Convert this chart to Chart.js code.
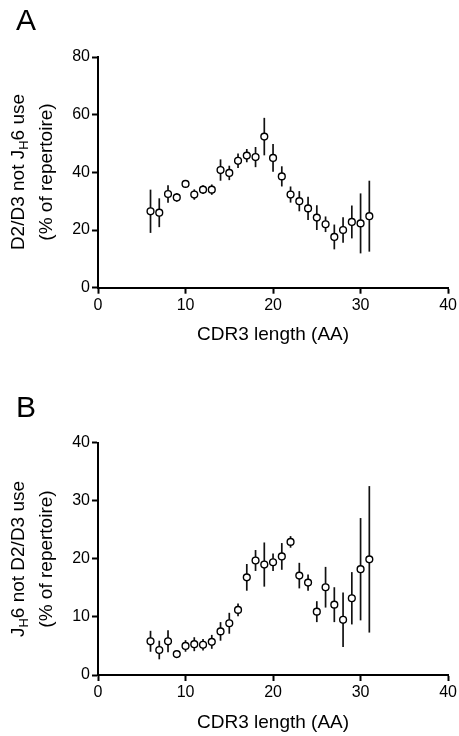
<!DOCTYPE html>
<html>
<head>
<meta charset="utf-8">
<script src="https://cdn.jsdelivr.net/npm/chart.js@4/dist/chart.umd.min.js"></script>
<style>
  html, body { margin: 0; padding: 0; background: #fff; }
  #wrap { position: relative; width: 459px; height: 736px; overflow: hidden; font-family: 'Liberation Sans', Arial, sans-serif; color: #000; }
  canvas { position: absolute; left: 0; }
  #chartA { top: 0; }
  #chartB { top: 368px; }
  .panel { position: absolute; font-size: 30px; line-height: 30px; }
  .ytitle { position: absolute; width: 240px; height: 56px; transform: rotate(-90deg); text-align: center; font-size: 19px; }
  .ytitle div { height: 28px; line-height: 28px; white-space: nowrap; }
  .ytitle sub { font-size: 13px; line-height: 0; vertical-align: -4px; }
</style>
</head>
<body>
<div id="wrap">
  <canvas id="chartA" width="459" height="368"></canvas>
  <canvas id="chartB" width="459" height="368"></canvas>
  <div class="panel" style="left:16px; top:5px;">A</div>
  <div class="panel" style="left:16px; top:392px;">B</div>
  <div class="ytitle" style="left:-88px; top:144px;">
    <div>D2/D3 not J<sub>H</sub>6 use</div>
    <div>(% of repertoire)</div>
  </div>
  <div class="ytitle" style="left:-88px; top:531px;">
    <div>J<sub>H</sub>6 not D2/D3 use</div>
    <div>(% of repertoire)</div>
  </div>
</div>
<script>
// CDR3 length categories (AA)
const cdr3Length = [6, 7, 8, 9, 10, 11, 12, 13, 14, 15, 16, 17, 18, 19, 20, 21, 22, 23, 24, 25, 26, 27, 28, 29, 30, 31];

// Panel A: D2/D3 not JH6 use (% of repertoire), mean and error
const d2d3Mean = [26.5, 26, 32.5, 31.3, 36, 32.3, 34, 34, 40.8, 39.8, 44, 45.8, 45.3, 52.4, 45, 38.6, 32.3, 30, 27.5, 24.3, 22, 17.6, 20, 22.8, 22.3, 24.8];
const d2d3Err = [7.5, 5, 3, 1.5, 0.8, 1.8, 1.5, 1.8, 3.7, 2.5, 2.5, 2.3, 3.5, 6.5, 4.8, 3.5, 2.8, 3.5, 4, 4.3, 2.7, 4.3, 4.4, 5.7, 10.4, 12.3];

// Panel B: JH6 not D2/D3 use (% of repertoire), mean and error
const jh6Mean = [5.8, 4.3, 5.8, 3.6, 5.0, 5.3, 5.2, 5.7, 7.5, 8.9, 11.2, 16.8, 19.7, 19.0, 19.4, 20.4, 22.9, 17.1, 15.9, 10.9, 15.1, 12.1, 9.5, 13.2, 18.2, 19.9];
const jh6Err = [1.8, 1.6, 1.9, 0.6, 1, 1.2, 1, 1.2, 1.6, 1.8, 1.1, 2.3, 1.8, 3.8, 1.5, 2.3, 1, 2.2, 1.4, 1.8, 3.5, 3, 4.7, 4.5, 8.8, 12.6];

const xTicks = [0, 10, 20, 30, 40];

const FONT = "'Liberation Sans', Arial, sans-serif";

// vertical error bars, drawn under the open circles
const errorBars = {
  id: 'errorBars',
  beforeDatasetsDraw(chart, args, opts) {
    const { ctx, scales: { x, y } } = chart;
    const pts = chart.data.datasets[0].data;
    ctx.save();
    ctx.strokeStyle = '#111';
    ctx.lineWidth = 1.7;
    pts.forEach((p, i) => {
      const e = opts.errors[i];
      const px = x.getPixelForValue(p.x);
      ctx.beginPath();
      ctx.moveTo(px, y.getPixelForValue(p.y + e));
      ctx.lineTo(px, y.getPixelForValue(p.y - e));
      ctx.stroke();
    });
    ctx.restore();
  }
};

function axisStyle() {
  return {
    border: { display: true, color: '#000', width: 2 },
    grid: { display: true, drawOnChartArea: false, drawTicks: true, tickLength: 6, tickWidth: 2, tickColor: '#000' },
  };
}

function makePanel(canvasId, means, errs, yMax, yStep, cfg) {
  const data = cdr3Length.map((v, i) => ({ x: v, y: means[i] }));
  new Chart(document.getElementById(canvasId), {
    type: 'scatter',
    data: {
      datasets: [{
        data: data,
        pointRadius: 3.4,
        pointHoverRadius: 3.4,
        pointBackgroundColor: '#fff',
        pointBorderColor: '#000',
        pointBorderWidth: 1.4
      }]
    },
    options: {
      responsive: false,
      animation: false,
      devicePixelRatio: 1,
      layout: { padding: { left: 0, right: 9.5, top: cfg.top, bottom: 0 } },
      plugins: {
        legend: { display: false },
        tooltip: { enabled: false },
        errorBars: { errors: errs }
      },
      scales: {
        x: {
          type: 'linear',
          min: 0,
          max: 40,
          afterBuildTicks: s => { s.ticks = xTicks.map(v => ({ value: v })); },
          afterFit: s => { s.height = cfg.xHeight; },
          ticks: { color: '#000', padding: 2, maxRotation: 0, font: { family: FONT, size: 16 } },
          title: {
            display: true,
            text: 'CDR3 length (AA)',
            color: '#000',
            font: { family: FONT, size: 19 },
            padding: { top: 0, bottom: cfg.titlePad }
          },
          ...axisStyle()
        },
        y: {
          min: 0,
          max: yMax,
          afterFit: s => { s.width = 98; },
          ticks: { stepSize: yStep, color: '#000', padding: 2, font: { family: FONT, size: 16 } },
          ...axisStyle()
        }
      }
    },
    plugins: [errorBars]
  });
}

makePanel('chartA', d2d3Mean, d2d3Err, 80, 20, { top: 57, xHeight: 80.3, titlePad: 21.6 });
makePanel('chartB', jh6Mean, jh6Err, 40, 10, { top: 74.5, xHeight: 61, titlePad: 2.3 });
</script>
</body>
</html>
